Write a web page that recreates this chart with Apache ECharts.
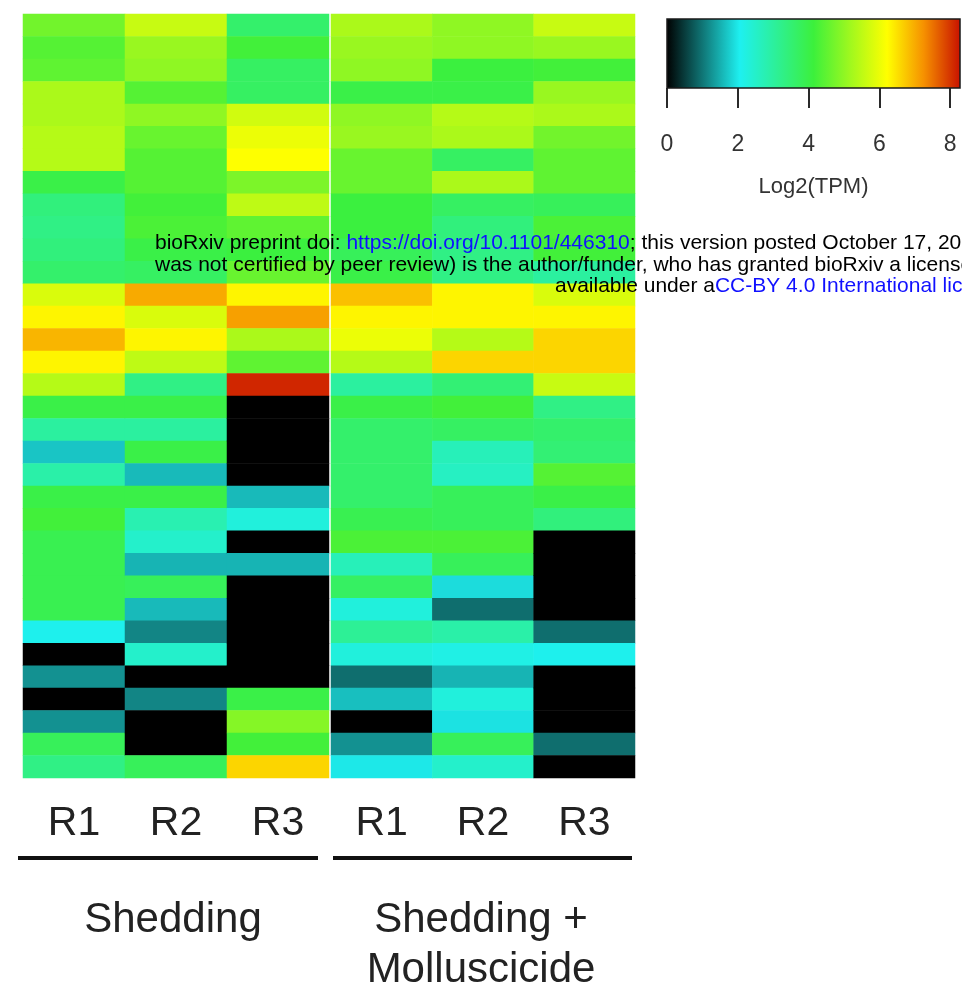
<!DOCTYPE html>
<html>
<head>
<meta charset="utf-8">
<title>Log2(TPM) heatmap</title>
<script src="https://cdn.jsdelivr.net/npm/echarts@6/dist/echarts.min.js"></script>
<style>
  html, body { margin: 0; padding: 0; background: #ffffff; }
  #chart { width: 962px; height: 997px; }
</style>
</head>
<body>
<div id="chart"></div>
<script>
// Replicate labels shown under each column
var replicates = ['R1', 'R2', 'R3'];
// Treatment groups
var groupNames = ['Shedding', 'Shedding +\nMolluscicide'];

// Log2(TPM) per gene (top to bottom), one array per sample
var shedR1 = [4.7, 4.4, 4.5, 5.3, 5.3, 5.4, 5.4, 4.0, 3.4, 3.3, 3.4, 3.6, 5.8, 6.3, 6.9, 6.3, 5.4,
              4.0, 3.0, 1.7, 2.9, 4.0, 4.2, 3.9, 3.9, 3.9, 3.9, 2.1, 0, 1.25, 0, 1.25, 3.8, 3.3];
var shedR2 = [5.6, 5.1, 5.0, 4.4, 5.0, 4.6, 4.4, 4.4, 4.2, 4.3, 4.0, 3.7, 7.0, 5.8, 6.3, 5.5, 3.3,
              4.0, 3.0, 4.0, 1.6, 4.0, 2.8, 2.5, 1.55, 3.8, 1.6, 1.15, 2.5, 0, 1.15, 0, 0, 3.8];
var shedR3 = [3.6, 4.2, 3.7, 3.7, 5.7, 6.0, 6.2, 4.8, 5.5, 4.5, 4.1, 4.6, 6.3, 7.1, 5.3, 4.5, 8.1,
              0, 0, 0, 0, 1.6, 2.3, 0, 1.55, 0, 0, 0, 0, 0, 4.0, 4.9, 4.2, 6.6];
var mollR1 = [5.3, 5.1, 5.0, 4.0, 5.0, 5.1, 4.6, 4.6, 4.1, 4.1, 3.8, 4.0, 6.8, 6.3, 6.0, 5.4, 3.0,
              4.0, 3.6, 3.6, 3.6, 3.6, 3.9, 4.3, 2.7, 3.7, 2.3, 3.1, 2.3, 0.95, 1.65, 0, 1.25, 2.0];
var mollR2 = [5.0, 5.0, 4.1, 4.0, 5.4, 5.3, 3.7, 5.3, 3.7, 3.4, 3.3, 3.3, 6.3, 6.3, 5.4, 6.6, 3.5,
              4.2, 3.7, 2.7, 2.6, 3.8, 3.8, 4.3, 3.8, 1.9, 0.95, 2.9, 2.2, 1.55, 2.3, 1.95, 3.8, 2.5];
var mollR3 = [5.6, 5.1, 4.2, 5.1, 5.3, 4.7, 4.5, 4.5, 3.8, 4.3, 4.2, 3.0, 5.8, 6.3, 6.6, 6.6, 5.6,
              3.3, 3.6, 3.5, 4.4, 4.0, 3.4, 0, 0, 0, 0, 0.95, 2.1, 0, 0, 0, 0.95, 0];

// Colour scale range and legend ticks
var scaleMin = 0;
var scaleMax = 8.28;
var legendTicks = [0, 2, 4, 6, 8];
var legendTitle = 'Log2(TPM)';

// Black -> cyan -> green -> yellow -> red ramp, evenly spaced stops
var ramp = ['#000000', '#107878', '#1ef0f0', '#2df096', '#3cf03c',
            '#a0f81e', '#ffff00', '#f69000', '#c81000'];

var FONT = "'Liberation Sans', Arial, Helvetica, sans-serif";

var groups = [[shedR1, shedR2, shedR3], [mollR1, mollR2, mollR3]];
var nRows = shedR1.length;
var rowNames = [];
for (var r = 0; r < nRows; r++) rowNames.push('gene' + (r + 1));

function toCells(cols) {
  var out = [];
  for (var c = 0; c < cols.length; c++) {
    for (var r = 0; r < cols[c].length; r++) out.push([c, r, cols[c][r]]);
  }
  return out;
}

var chart = echarts.init(document.getElementById('chart'), null, { renderer: 'canvas' });

var gradientStops = ramp.map(function (col, i) {
  return { offset: i / (ramp.length - 1), color: col };
});

var heatGrids = [
  { left: 23, top: 14, width: 306, height: 764 },
  { left: 331, top: 14, width: 304, height: 764 }
];

var xAxes = [], yAxes = [], series = [];
heatGrids.forEach(function (g, gi) {
  xAxes.push({
    type: 'category', gridIndex: gi, data: replicates, position: 'bottom',
    axisLine: { show: false }, axisTick: { show: false }, splitLine: { show: false },
    axisLabel: { fontSize: 41, color: '#222', fontFamily: FONT, margin: 25 }
  });
  yAxes.push({
    type: 'category', gridIndex: gi, data: rowNames, inverse: true, show: false
  });
  series.push({
    type: 'heatmap', xAxisIndex: gi, yAxisIndex: gi,
    data: toCells(groups[gi]), silent: true, progressive: 0,
    itemStyle: { borderWidth: 0 }
  });
});

// Legend colour bar: its own grid with a value axis for the ticks
var legendGrid = { left: 667, top: 19, width: 293, height: 69 };
xAxes.push({
  type: 'value', gridIndex: 2, min: scaleMin, max: scaleMax, interval: 2,
  axisLine: { show: false }, splitLine: { show: false },
  axisTick: { show: true, length: 20, customValues: legendTicks,
              lineStyle: { color: '#2a2a2a', width: 2 } },
  axisLabel: { customValues: legendTicks, fontSize: 23, color: '#333',
               fontFamily: FONT, margin: 45 },
  name: legendTitle, nameLocation: 'middle', nameGap: 88,
  nameTextStyle: { fontSize: 22, color: '#333', fontFamily: FONT }
});
yAxes.push({ type: 'value', gridIndex: 2, min: 0, max: 1, show: false });
series.push({
  type: 'custom', xAxisIndex: 2, yAxisIndex: 2, silent: true,
  data: [[scaleMin, scaleMax]],
  renderItem: function (params, api) {
    var p0 = api.coord([api.value(0), 1]);
    var p1 = api.coord([api.value(1), 0]);
    return {
      type: 'rect',
      shape: { x: p0[0], y: p0[1], width: p1[0] - p0[0], height: p1[1] - p0[1] },
      style: {
        fill: new echarts.graphic.LinearGradient(0, 0, 1, 0, gradientStops),
        stroke: '#1a1a1a', lineWidth: 1.5
      }
    };
  }
});

// Group underlines and names
var NOTE_SIZE = 21;
var graphics = [
  { type: 'rect', shape: { x: 18, y: 856, width: 300, height: 4 }, style: { fill: '#111' } },
  { type: 'rect', shape: { x: 333, y: 856, width: 299, height: 4 }, style: { fill: '#111' } },
  { type: 'text', x: 173, y: 920,
    style: { text: groupNames[0], fontSize: 42, fill: '#222', fontFamily: FONT,
             align: 'center', verticalAlign: 'middle' } },
  { type: 'text', x: 481, y: 945,
    style: { text: groupNames[1], fontSize: 42, lineHeight: 50, fill: '#222', fontFamily: FONT,
             align: 'center', verticalAlign: 'middle' } },
  // Preprint notice printed across the page
  { type: 'text', x: 155, y: 243, z: 100,
    style: {
      text: 'bioRxiv preprint doi: {l|https://doi.org/10.1101/446310}; this version posted October 17, 2018. The copyright holder for this preprint (which',
      fontSize: NOTE_SIZE, fill: '#000', fontFamily: FONT, verticalAlign: 'middle',
      rich: { l: { fontSize: NOTE_SIZE, fill: '#1010ff', fontFamily: FONT } }
    } },
  { type: 'text', x: 155, y: 265, z: 100,
    style: {
      text: 'was not certified by peer review) is the author/funder, who has granted bioRxiv a license to display the preprint in perpetuity. It is made',
      fontSize: NOTE_SIZE, fill: '#000', fontFamily: FONT, verticalAlign: 'middle'
    } },
  { type: 'text', x: 555, y: 286, z: 100,
    style: {
      text: 'available under a{l|CC-BY 4.0 International license}.',
      fontSize: NOTE_SIZE, fill: '#000', fontFamily: FONT, verticalAlign: 'middle',
      rich: { l: { fontSize: NOTE_SIZE, fill: '#1010ff', fontFamily: FONT } }
    } }
];

chart.setOption({
  backgroundColor: '#ffffff',
  animation: false,
  grid: [heatGrids[0], heatGrids[1], legendGrid],
  xAxis: xAxes,
  yAxis: yAxes,
  visualMap: {
    type: 'continuous', show: false, min: scaleMin, max: scaleMax,
    seriesIndex: [0, 1], dimension: 2,
    inRange: { color: ramp }
  },
  series: series,
  graphic: graphics
});
</script>
</body>
</html>
